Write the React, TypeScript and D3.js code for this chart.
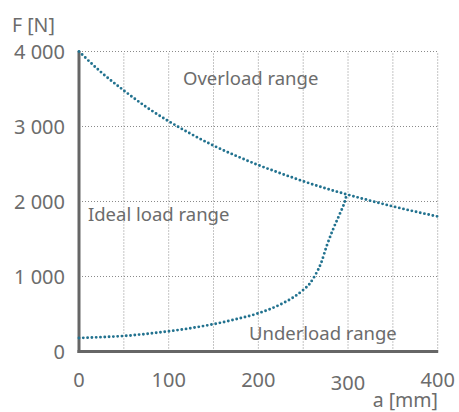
import React from "react";
import * as d3 from "d3";

const xTicks = [0, 100, 200, 300, 400];
const yTicks = [0, 1000, 2000, 3000, 4000];
const yTickLabels = ["0", "1 000", "2 000", "3 000", "4 000"];
const xGrid = [50, 100, 150, 200, 250, 300, 350, 400];
const yGrid = [1000, 2000, 3000, 4000];

const upperA = [0, 25, 50, 75, 100, 125, 150, 175, 200, 225, 250, 275, 300, 325, 350, 375, 400];
const upperF = [4000, 3720, 3480, 3260, 3070, 2900, 2745, 2610, 2485, 2375, 2270, 2175, 2090, 2010, 1935, 1865, 1800];

const lowerA = [0, 25, 50, 75, 100, 125, 150, 175, 200, 225, 240, 250, 257, 263, 270, 276, 283, 291, 296.4, 298.5];
const lowerF = [180, 192, 207, 235, 270, 312, 365, 430, 510, 630, 730, 820, 900, 1010, 1180, 1400, 1620, 1840, 2000, 2095];

const regionLabels = ["Overload range", "Ideal load range", "Underload range"];
const regionA = [116, 10, 189.5];
const regionF = [3640, 1820, 240];

const W = 459;
const H = 412;
const TEXT = "#6c6c6c";
const LINE = "#22728f";
const FONT = "'Noto Sans', 'Open Sans', sans-serif";

export default function App() {
  const x = d3.scaleLinear().domain([0, 400]).range([79, 437.7]);
  const y = d3.scaleLinear().domain([0, 4000]).range([351.5, 51.5]);
  const line = d3
    .line<[number, number]>()
    .x((d) => x(d[0]))
    .y((d) => y(d[1]))
    .curve(d3.curveMonotoneX);
  const upper = upperA.map((a, i) => [a, upperF[i]] as [number, number]);
  const lower = lowerA.map((a, i) => [a, lowerF[i]] as [number, number]);

  return (
    <svg
      width={W}
      height={H}
      style={{ position: "absolute", left: 0, top: 0, background: "#fff" }}
      fontFamily={FONT}
    >
      {xGrid.map((v) => (
        <line
          key={"gx" + v}
          x1={x(v)}
          x2={x(v)}
          y1={y(0)}
          y2={y(4000)}
          stroke="#8a8a8a"
          strokeWidth={1}
          strokeDasharray="1 2"
        />
      ))}
      {yGrid.map((v) => (
        <line
          key={"gy" + v}
          x1={x(0)}
          x2={x(400)}
          y1={y(v)}
          y2={y(v)}
          stroke="#8a8a8a"
          strokeWidth={1}
          strokeDasharray="1 2"
        />
      ))}
      <line x1={x(0)} x2={x(0)} y1={y(4000) - 0.5} y2={y(0) + 1.5} stroke="#666" strokeWidth={3} />
      <line x1={x(0) - 1.5} x2={x(400) + 0.5} y1={y(0)} y2={y(0)} stroke="#666" strokeWidth={3} />

      <path
        d={line(upper) || ""}
        fill="none"
        stroke={LINE}
        strokeWidth={2.9}
        strokeLinecap="round"
        strokeDasharray="0 4.3"
      />
      <path
        d={line(lower) || ""}
        fill="none"
        stroke={LINE}
        strokeWidth={2.9}
        strokeLinecap="round"
        strokeDasharray="0 4.3"
      />

      {yTicks.map((v, i) => (
        <text
          key={"yt" + v}
          x={65}
          y={y(v)}
          dy="0.35em"
          textAnchor="end"
          fontSize={20}
          fill={TEXT}
        >
          {yTickLabels[i]}
        </text>
      ))}
      {xTicks.map((v) => (
        <text
          key={"xt" + v}
          x={x(v)}
          y={v === 300 ? 383 : 380}
          dy="0.35em"
          textAnchor="middle"
          fontSize={20}
          fill={TEXT}
        >
          {v}
        </text>
      ))}
      <text x={438} y={400} dy="0.35em" textAnchor="end" fontSize={19.5} fill={TEXT}>
        a [mm]
      </text>
      <text x={12} y={25} dy="0.35em" textAnchor="start" fontSize={19.5} fill={TEXT}>
        F [N]
      </text>
      {regionLabels.map((t, i) => (
        <text
          key={t}
          x={x(regionA[i])}
          y={y(regionF[i])}
          dy="0.35em"
          textAnchor="start"
          fontSize={18.5}
          fill={TEXT}
        >
          {t}
        </text>
      ))}
    </svg>
  );
}
